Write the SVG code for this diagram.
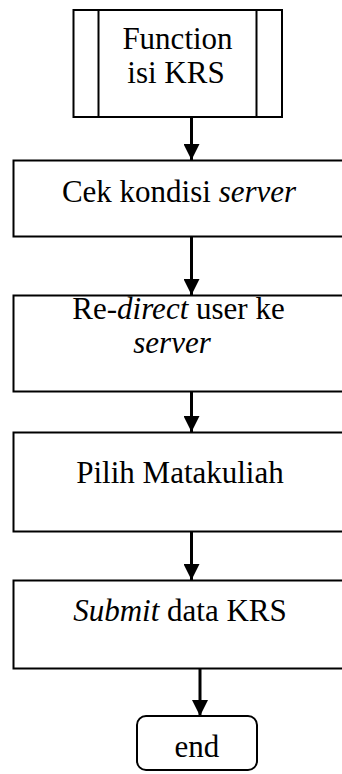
<svg xmlns="http://www.w3.org/2000/svg" width="342" height="774" viewBox="0 0 342 774">
<style>
.box{fill:#fff;stroke:#000;stroke-width:2}
.t{font-size:31px;fill:#000;text-anchor:middle}
.i{font-style:italic}
.c{stroke:#000;stroke-width:3;fill:none}
</style>
<defs>
<marker id="ah" markerUnits="userSpaceOnUse" markerWidth="18" markerHeight="16" refX="16" refY="8" orient="auto">
<path d="M0,0 L16,8 L0,16 Z" fill="#000"/>
</marker>
</defs>
<rect width="342" height="774" fill="#fff"/>
<g id="connectors">
<line class="c" x1="191.5" y1="117" x2="191.5" y2="160" marker-end="url(#ah)"/>
<line class="c" x1="191.5" y1="237" x2="191.5" y2="295" marker-end="url(#ah)"/>
<line class="c" x1="191.5" y1="392" x2="191.5" y2="432" marker-end="url(#ah)"/>
<line class="c" x1="191.5" y1="532" x2="191.5" y2="580" marker-end="url(#ah)"/>
<line class="c" x1="200" y1="668" x2="200" y2="716" marker-end="url(#ah)"/>
</g>
<g font-family="Liberation Serif, serif">
<g id="function">
<rect class="box" x="73.5" y="10" width="208.5" height="107"/>
<line class="box" x1="98.5" y1="10" x2="98.5" y2="117"/>
<line class="box" x1="256.5" y1="10" x2="256.5" y2="117"/>
<text class="t" x="177.5" y="49">Function</text>
<text class="t" x="176" y="83">isi KRS</text>
</g>
<g id="cek">
<rect class="box" x="13.5" y="160.5" width="334" height="76"/>
<text class="t" x="179" y="202">Cek kondisi <tspan class="i">server</tspan></text>
</g>
<g id="redirect">
<rect class="box" x="13.5" y="295.5" width="334" height="96"/>
<text class="t" x="178.5" y="319">Re-<tspan class="i">direct</tspan> user ke</text>
<text class="t i" x="172" y="353">server</text>
</g>
<g id="pilih">
<rect class="box" x="13.5" y="432.5" width="334" height="99"/>
<text class="t" x="180" y="483">Pilih Matakuliah</text>
</g>
<g id="submit">
<rect class="box" x="13.5" y="580.5" width="334" height="88"/>
<text class="t" x="180" y="621"><tspan class="i">Submit</tspan> data KRS</text>
</g>
<g id="end">
<rect class="box" x="137" y="716" width="120" height="54" rx="9"/>
<text class="t" x="197" y="757">end</text>
</g>
</g>
</svg>
